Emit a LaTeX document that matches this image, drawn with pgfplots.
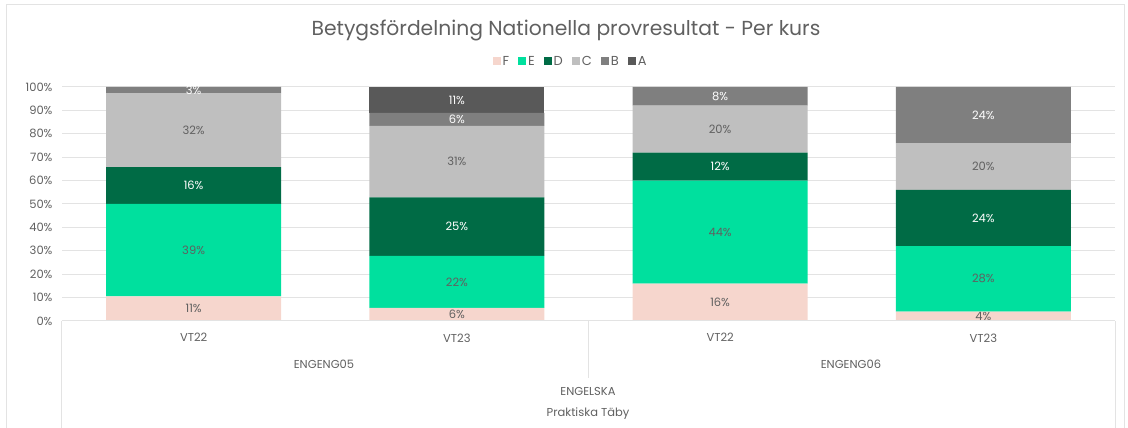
\documentclass[border=0pt]{standalone}
\usepackage{fontspec}
\setmainfont{Poppins}
\usepackage{pgfplots}
\usepackage{pgfplotstable}
\pgfplotsset{compat=1.18}

\definecolor{gF}{HTML}{F6D6CD}
\definecolor{gE}{HTML}{00E09E}
\definecolor{gD}{HTML}{006B45}
\definecolor{gC}{HTML}{BFBFBF}
\definecolor{gB}{HTML}{7F7F7F}
\definecolor{gA}{HTML}{595959}
\definecolor{gridgray}{HTML}{E3E3E3}
\definecolor{txt}{HTML}{606060}

% share of each grade (percent), courses ENGENG05/ENGENG06, terms VT22/VT23
\pgfplotstableread{
x F E D C B A
0 10.53 39.47 15.79 31.58 2.63 0
1 5.56 22.22 25.00 30.56 5.56 11.11
2 16 44 12 20 8 0
3 4 28 24 20 24 0
}\grades

\newcommand{\lbl}{\fontsize{11.5}{13}\selectfont}

\begin{document}
\begin{tikzpicture}[x=1pt,y=1pt]
\useasboundingbox (-62,-107) rectangle (1066,321);
\draw[gridgray, line width=1pt] (-55,-112) rectangle (1062,316);
\node[text=txt, font=\fontsize{20.3}{23}\selectfont] at (504,291) {Betygsfördelning Nationella provresultat - Per kurs};
\begin{axis}[
    at={(0,0)}, anchor=south west,
    scale only axis, width=1053pt, height=234pt,
    ybar stacked, bar width=175pt,
    xmin=-0.5, xmax=3.5, ymin=0, ymax=100,
    ytick={0,10,...,100},
    yticklabel={\pgfmathprintnumber{\tick}\%},
    /pgf/number format/assume math mode=true,
    xtick={0,1,2,3},
    xticklabels={VT22,VT23,VT22,VT23},
    major tick length=0,
    axis line style={draw=none},
    ymajorgrids, grid style={gridgray, line width=1pt},
    tick label style={font=\lbl, text=txt},
    yticklabel style={xshift=-6pt},
    xticklabel style={yshift=-9pt},
    clip=false,
    legend columns=6,
    legend style={at={(0.483,1)}, anchor=south, yshift=16pt, draw=none, fill=none,
        font=\fontsize{13}{15}\selectfont, text=txt,
        /tikz/every even column/.append style={column sep=7pt}},
    legend image code/.code={\fill[#1,draw=none] (0pt,-4pt) rectangle (8pt,4pt);},
    visualization depends on={rawy \as \rawy},
    nodes near coords={\pgfmathprintnumber[fixed,precision=0,assume math mode=true]{\rawy}\%},
    every node near coord/.append style={anchor=center, font=\lbl, text=txt},
]
\addplot[fill=gF, draw=none] table[x=x, y=F] {\grades};
\addplot[fill=gE, draw=none] table[x=x, y=E] {\grades};
\addplot[fill=gD, draw=none, every node near coord/.append style={text=white}] table[x=x, y=D] {\grades};
\addplot[fill=gC, draw=none] table[x=x, y=C] {\grades};
\addplot[fill=gB, draw=none, every node near coord/.append style={text=white}] table[x=x, y=B] {\grades};
\addplot[fill=gA, draw=none, every node near coord/.append style={text=white}] table[x=x, y=A] {\grades};
\legend{F,E,D,C,B,A}
\end{axis}
\draw[gridgray, line width=1pt] (0,0) -- (0,-107);
\draw[gridgray, line width=1pt] (1053,0) -- (1053,-107);
\draw[gridgray, line width=1pt] (526.5,0) -- (526.5,-57);
\draw[gridgray, line width=1pt] (0,0) -- (1053,0);
\node[text=txt, font=\lbl] at (262,-43) {ENGENG05};
\node[text=txt, font=\lbl] at (789,-43) {ENGENG06};
\node[text=txt, font=\lbl] at (526,-70) {ENGELSKA};
\node[text=txt, font=\lbl] at (526,-93) {Praktiska Täby};
\end{tikzpicture}
\end{document}
